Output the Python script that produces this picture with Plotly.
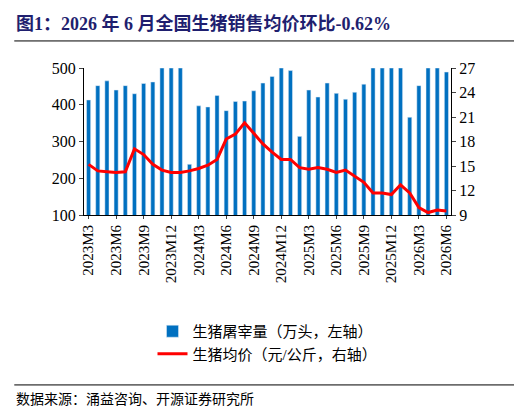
import plotly.graph_objects as go

months = []
y, m = 2023, 3
for _ in range(40):
    months.append(f"{y}M{m}")
    m += 1
    if m > 12:
        m = 1; y += 1

inventory = [413, 452, 465, 440, 452, 430, 458, 462, 500, 500, 500,
             238, 397, 394, 425, 384, 409, 410, 438, 459, 477, 500, 493,
             314, 440, 421, 459, 431, 415, 434, 456, 500, 500, 500, 500,
             366, 452, 500, 500, 489]
price = [15.2, 14.4, 14.3, 14.2, 14.3, 17.1, 16.4, 15.2, 14.5, 14.2,
         14.2, 14.4, 14.7, 15.1, 15.8, 18.3, 18.9, 20.3, 19.0, 17.7,
         16.7, 15.8, 15.8, 14.8, 14.6, 14.8, 14.6, 14.2, 14.5, 13.7,
         13.0, 11.7, 11.7, 11.5, 12.7, 11.7, 9.9, 9.3, 9.6, 9.5]
tick_labels = months[::3]

font = "Liberation Serif, Noto Sans CJK SC"
fig = go.Figure()
fig.add_bar(x=months, y=inventory, name="生猪屠宰量（万头，左轴）",
            marker_color="#0070C0", width=0.45)
fig.add_scatter(x=months, y=price, yaxis="y2", mode="lines",
                name="生猪均价（元/公斤，右轴）",
                line=dict(color="#FF0000", width=3))
fig.update_layout(
    width=522, height=408, plot_bgcolor="white", paper_bgcolor="white",
    margin=dict(l=76, r=79, t=60, b=201),
    font=dict(family=font, size=15, color="black"),
    bargap=0.5,
    xaxis=dict(tickmode="array", tickvals=tick_labels, ticktext=tick_labels,
               tickangle=-90, showline=True, linecolor="black",
               ticks="outside", ticklen=3, range=[-0.5, 39.5],
               tickfont=dict(size=15)),
    yaxis=dict(range=[100, 500], dtick=100, showgrid=False, showline=True,
               linecolor="black", ticks="outside", ticklen=4,
               tickfont=dict(size=16)),
    yaxis2=dict(range=[9, 27], dtick=3, overlaying="y", side="right",
                showgrid=False, showline=True, linecolor="black",
                ticks="outside", ticklen=4, tickfont=dict(size=16)),
    legend=dict(x=0.5, y=-0.68, xanchor="center", yanchor="top",
                orientation="v", font=dict(size=15), tracegroupgap=12),
    annotations=[
        dict(text="<b>图1：2026 年 6 月全国生猪销售均价环比-0.62%</b>",
             x=0, y=1, xref="paper", yref="paper", xshift=-70, yshift=57,
             xanchor="left", yanchor="top", showarrow=False,
             font=dict(size=18, color="#1F1F6F")),
        dict(text="数据来源：涌益咨询、开源证券研究所", x=0, y=0,
             xref="paper", yref="paper", xanchor="left", yanchor="top",
             xshift=-70, yshift=-175, showarrow=False,
             font=dict(size=14, color="black")),
    ],
    shapes=[
        dict(type="line", xref="paper", yref="paper", x0=-0.19, x1=1.21,
             y0=1.184, y1=1.184, line=dict(color="black", width=1)),
        dict(type="line", xref="paper", yref="paper", x0=-0.19, x1=1.21,
             y0=-1.156, y1=-1.156, line=dict(color="black", width=1)),
    ],
)
fig.write_html("out.html")
